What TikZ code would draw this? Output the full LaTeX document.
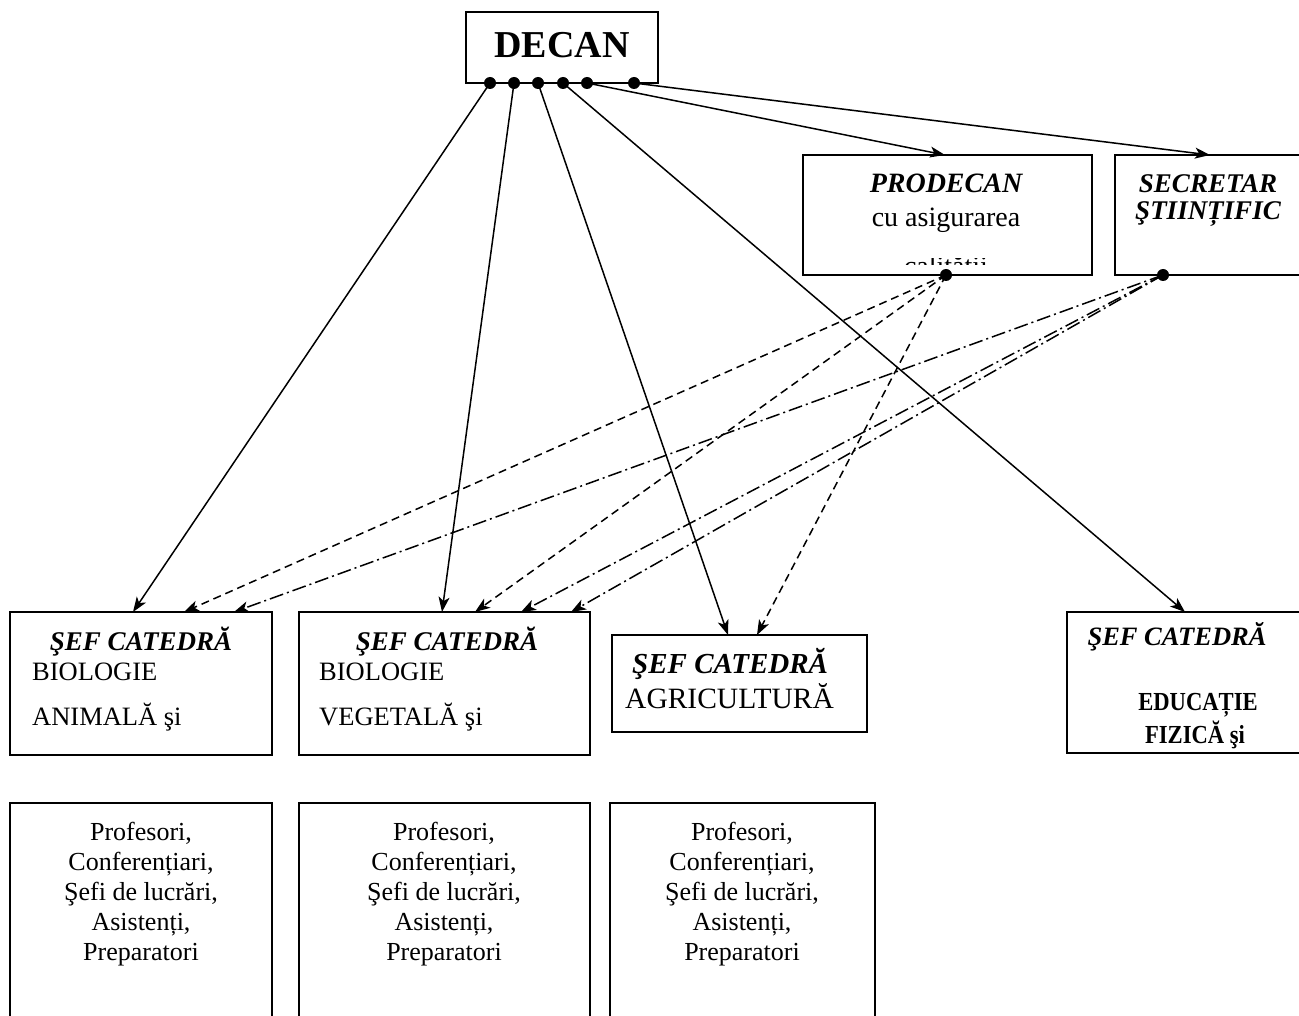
\documentclass[tikz,border=0pt]{standalone}
\usepackage{fontspec}
\setmainfont{Liberation Serif}
\newfontfamily\condserif{Liberation Serif}[FakeStretch=0.87]
\usetikzlibrary{arrows.meta}
\begin{document}
\begin{tikzpicture}[x=1pt,y=-1pt,
 box/.style={draw, line width=2pt, inner sep=0pt, outer sep=0pt, anchor=north west},
 dot/.style={circle, fill=black, inner sep=0pt, minimum size=12pt},
 conn/.style={line width=1.5pt, -{Stealth[length=15pt,width=11pt,inset=4pt]}},
 dsh/.style={conn, dash pattern=on 8pt off 5pt},
 dshdot/.style={conn, dash pattern=on 14pt off 4pt on 2pt off 4pt},
 headtxt/.style={font=\fontsize{27}{32}\selectfont\bfseries\itshape, inner sep=0pt},
 plaintxt/.style={font=\fontsize{26.5}{32}\selectfont, inner sep=0pt},
 boldtxt/.style={font=\condserif\fontsize{26}{30}\selectfont\bfseries, inner sep=0pt},
 stafftxt/.style={font=\fontsize{26}{30}\selectfont, align=center, inner sep=0pt, anchor=north},
]
\clip (0,0) rectangle (1299,1016);
\fill[white] (0,0) rectangle (1299,1016);

% DECAN
\node[box, minimum width=192pt, minimum height=71pt] (decan) at (466,12) {};
\node[font=\fontsize{38}{44}\selectfont\bfseries, inner sep=0pt, anchor=base] (decantxt) at (562,58) {DECAN};

% PRODECAN
\node[box, minimum width=289pt, minimum height=120pt] (prod) at (803,155) {};
\node[headtxt, font=\fontsize{28}{32}\selectfont\bfseries\itshape, anchor=base] (prodtxt) at (946,193) {PRODECAN};
\node[plaintxt, font=\fontsize{28}{32}\selectfont, anchor=base] (prodtxt2) at (946,227) {cu asigurarea};
\begin{scope}
\clip (850,259) rectangle (1050,265);
\node[plaintxt, font=\fontsize{28}{32}\selectfont, anchor=base] (prodtxt3) at (946,276) {calității};
\end{scope}

% SECRETAR
\node[box, minimum width=200pt, minimum height=120pt] (secr) at (1115,155) {};
\node[headtxt, anchor=base] (secrtxt) at (1208,193) {SECRETAR};
\node[headtxt, anchor=base] (secrtxt2) at (1208,220) {ŞTIINȚIFIC};

% Sef catedra boxes
\node[box, minimum width=262pt, minimum height=143pt] (c1) at (10,612) {};
\node[headtxt, anchor=base] (c1h) at (141,650) {ŞEF CATEDRĂ};
\node[plaintxt, anchor=base west] (c1a) at (32,680) {BIOLOGIE};
\node[plaintxt, anchor=base west] (c1b) at (32,725) {ANIMALĂ şi};

\node[box, minimum width=291pt, minimum height=143pt] (c2) at (299,612) {};
\node[headtxt, anchor=base] (c2h) at (447,650) {ŞEF CATEDRĂ};
\node[plaintxt, anchor=base west] (c2a) at (319,680) {BIOLOGIE};
\node[plaintxt, anchor=base west] (c2b) at (319,725) {VEGETALĂ şi};

\node[box, minimum width=255pt, minimum height=97pt] (c3) at (612,635) {};
\node[headtxt, font=\fontsize{29}{34}\selectfont\bfseries\itshape, anchor=base west] (c3h) at (632,673) {ŞEF CATEDRĂ};
\node[plaintxt, font=\fontsize{29.5}{34}\selectfont, anchor=base west] (c3a) at (625,708) {AGRICULTURĂ};

\node[box, minimum width=250pt, minimum height=141pt] (c4) at (1067,612) {};
\node[headtxt, font=\fontsize{26.5}{32}\selectfont\bfseries\itshape, anchor=base] (c4h) at (1177,645) {ŞEF CATEDRĂ};
\node[boldtxt, anchor=base] (c4a) at (1198,710) {EDUCAȚIE};
\node[boldtxt, anchor=base] (c4b) at (1195,743) {FIZICĂ şi};

% staff boxes
\node[box, minimum width=262pt, minimum height=230pt] (s1) at (10,803) {};
\node[stafftxt] (s1t) at (141,822) {Profesori,\\Conferențiari,\\Şefi de lucrări,\\Asistenți,\\Preparatori};
\node[box, minimum width=291pt, minimum height=230pt] (s2) at (299,803) {};
\node[stafftxt] (s2t) at (444,822) {Profesori,\\Conferențiari,\\Şefi de lucrări,\\Asistenți,\\Preparatori};
\node[box, minimum width=265pt, minimum height=230pt] (s3) at (610,803) {};
\node[stafftxt] (s3t) at (742,822) {Profesori,\\Conferențiari,\\Şefi de lucrări,\\Asistenți,\\Preparatori};

% dots
\node[dot] (d1) at (490,83) {};
\node[dot] (d2) at (514,83) {};
\node[dot] (d3) at (538,83) {};
\node[dot] (d4) at (563,83) {};
\node[dot] (d5) at (587,83) {};
\node[dot] (d6) at (634,83) {};
\node[dot] (pd) at (946,275) {};
\node[dot] (sd) at (1163,275) {};

% targets
\coordinate (t1) at (133,612);
\coordinate (t2) at (442,612);
\coordinate (t3) at (728,635);
\coordinate (t4) at (1185,612);
\coordinate (t5) at (945,155);
\coordinate (t6) at (1210,155);
\coordinate (p1) at (184,612);
\coordinate (p2) at (475,612);
\coordinate (p3) at (757,635);
\coordinate (q1) at (234,612);
\coordinate (q2) at (521,612);
\coordinate (q3) at (571,612);

\draw[conn] (d1.center) -- (t1);
\draw[conn] (d2.center) -- (t2);
\draw[conn] (d3.center) -- (t3);
\draw[conn] (d4.center) -- (t4);
\draw[conn] (d5.center) -- (t5);
\draw[conn] (d6.center) -- (t6);

\draw[dsh] (pd.center) -- (p1);
\draw[dsh] (pd.center) -- (p2);
\draw[dsh] (pd.center) -- (p3);

\draw[dshdot] (sd.center) -- (q1);
\draw[dshdot] (sd.center) -- (q2);
\draw[dshdot] (sd.center) -- (q3);
\end{tikzpicture}
\end{document}
